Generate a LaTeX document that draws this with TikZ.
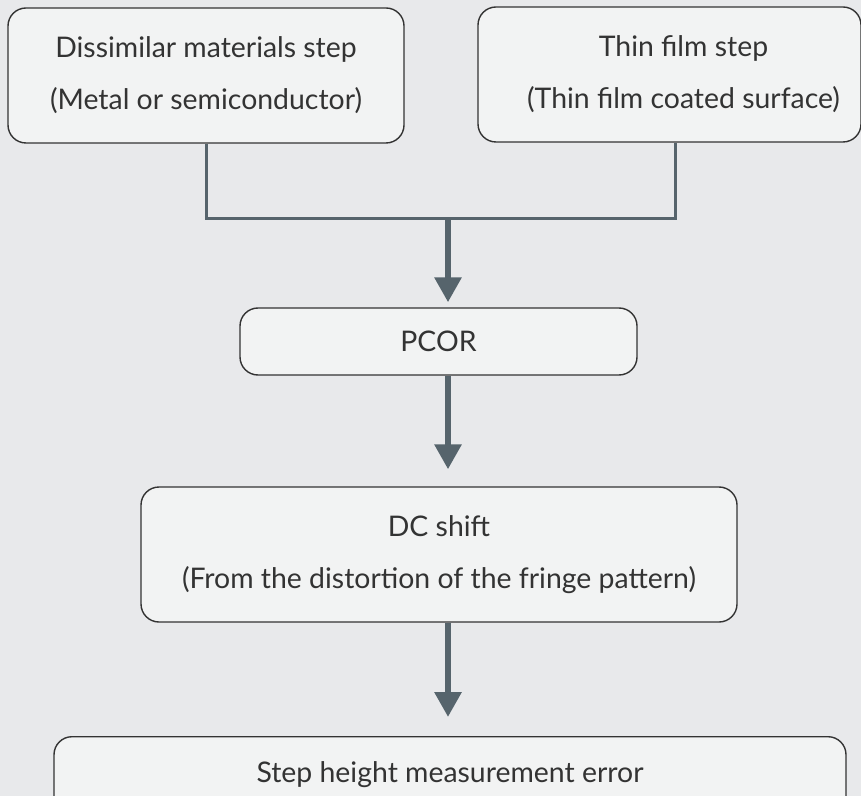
\documentclass[tikz,border=0pt]{standalone}
\usepackage{fontspec}
\setmainfont{Lato}
\usetikzlibrary{arrows.meta}
\definecolor{bgcol}{RGB}{232,233,235}
\definecolor{boxcol}{RGB}{242,243,243}
\definecolor{edgecol}{RGB}{51,51,51}
\definecolor{slate}{RGB}{86,100,108}
\begin{document}
\begin{tikzpicture}[x=0.5pt,y=-0.5pt,
    box/.style={draw=edgecol, line width=0.7pt, fill=boxcol, rounded corners=9pt, align=center,
                text=edgecol, font=\fontsize{14.2}{26}\selectfont, inner sep=0pt},
    link/.style={draw=slate, line width=1.5pt},
    flow/.style={draw=slate, line width=3pt, -{Triangle[width=13pt,length=12.5pt]}}]
            % page
            \fill[bgcol] (0,0) rectangle (861,796);
            \useasboundingbox (0,0) rectangle (861,796);
            \clip (0,0) rectangle (861,796);

            % two kinds of step
            \node (dis) at (206,75.5) [box, minimum width=198pt, minimum height=67.5pt]
                {Dissimilar materials step\\(Metal or semiconductor)};
            \node (thin) at (669.5,74.5) [box, minimum width=191.5pt, minimum height=67.5pt]
                {\hspace*{14pt}Thin film step\\\hspace*{14pt}(Thin film coated surface)};

            % joined
            \coordinate (join) at (448,219);
            \draw[link] (dis.south) |- (join) -| ([xshift=3pt]thin.south);

            % PCOR
            \node (pcor) at (438.5,341.5) [box, minimum width=198.5pt, minimum height=33.5pt] {PCOR};
            \draw[flow, shorten >=2.5pt] (join) -- (pcor.north -| join);

            % DC shift
            \node (dc) at (439,554.5) [box, minimum width=298pt, minimum height=67.5pt]
                {DC shift\\(From the distortion of the fringe pattern)};
            \draw[flow, shorten >=8.5pt] (pcor.south -| join) -- (dc.north -| join);

            % error (runs off the page)
            \node (err) at (450,736) [box, anchor=north, minimum width=396pt, text height=23pt, text depth=20pt]
                {Step height measurement error};
            \draw[flow, shorten >=9.5pt] (dc.south -| join) -- (err.north -| join);

        \end{tikzpicture}
\end{document}
